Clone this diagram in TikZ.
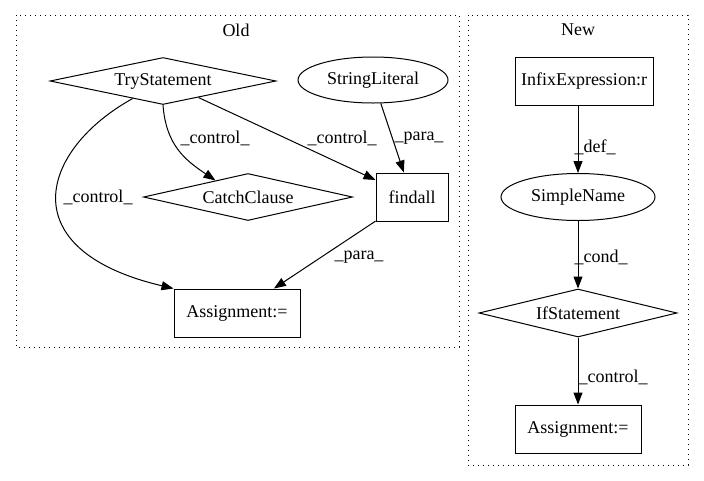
\documentclass[tikz,border=0pt]{standalone}
\usepackage{fontspec}
\setmainfont{Liberation Serif}
\usetikzlibrary{shapes.geometric,arrows.meta}

\begin{document}
\begin{tikzpicture}[x=1pt, y=-1pt, font=\fontsize{18}{21}\selectfont,
        box/.style={draw, line width=1pt, rectangle, minimum height=48pt, inner sep=0pt},
        cond/.style={draw, line width=1pt, diamond, aspect=4.8, inner sep=0pt},
        oval/.style={draw, line width=1pt, ellipse, inner sep=0pt},
        dep/.style={line width=1pt, -{Triangle[length=12pt,width=9pt]}},
        lbl/.style={inner sep=0pt},
        cluster/.style={line width=1pt, dash pattern=on 1pt off 4pt}]
        \useasboundingbox (0, 0) rectangle (704, 480);

        % clusters
        \draw[cluster] (16, 15) rectangle (459, 347);
        \draw[cluster] (468, 15) rectangle (688, 465);
        \node[lbl] (oldtitle) at (236, 30) {Old};
        \node[lbl] (newtitle) at (578, 30) {New};

        % old
        \node[cond, minimum width=226pt, minimum height=47pt] (try) at (163, 81) {TryStatement};
        \node[oval, minimum width=150pt, minimum height=46pt] (strlit) at (373, 80) {StringLiteral};
        \node[cond, minimum width=209pt, minimum height=47pt] (catch) at (248, 197) {CatchClause};
        \node[box, minimum width=72pt] (findall) at (412, 197) {findall};
        \node[box, minimum width=126pt] (assignold) at (237, 313) {Assignment:=};

        \draw[dep] (try.-150) .. controls (40, 150) and (10, 250) .. (assignold.north west)
            node[lbl] (l1) at (98, 197) {\_control\_};
        \draw[dep] (try.south) .. controls (166, 145) and (185, 160) .. (catch.153)
            node[lbl] (l2) at (215, 138) {\_control\_};
        \draw[dep] (try) -- (findall)
            node[lbl] (l3) at (342, 138) {\_control\_};
        \draw[dep] (strlit) -- (findall)
            node[lbl] (l4) at (419, 138) {\_para\_};
        \draw[dep] (findall) -- (assignold)
            node[lbl] (l5) at (359, 257) {\_para\_};

        % new
        \node[box, minimum width=138pt] (infix) at (584, 81) {InfixExpression:r};
        \node[oval, minimum width=154pt, minimum height=47pt] (simple) at (578, 197) {SimpleName};
        \node[cond, minimum width=198pt, minimum height=48pt] (ifst) at (578, 313) {IfStatement};
        \node[box, minimum width=126pt] (assignnew) at (578, 429) {Assignment:=};

        \draw[dep] (infix.south -| simple) -- (simple)
            node[lbl] (l6) at (595, 147) {\_def\_};
        \draw[dep] (simple) -- (ifst)
            node[lbl] (l7) at (601, 257) {\_cond\_};
        \draw[dep] (ifst) -- (assignnew)
            node[lbl] (l8) at (613, 377) {\_control\_};
    \end{tikzpicture}
\end{document}
